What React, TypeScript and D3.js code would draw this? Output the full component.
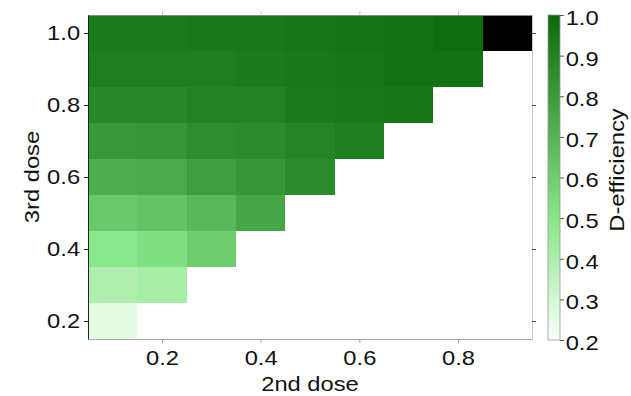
import React, { useEffect, useRef } from 'react';
import * as d3 from 'd3';

// 2nd dose (x) and 3rd dose (y) grid
const secondDose = [0.1, 0.2, 0.3, 0.4, 0.5, 0.6, 0.7, 0.8, 0.9];
const thirdDose = [0.2, 0.3, 0.4, 0.5, 0.6, 0.7, 0.8, 0.9, 1.0];

// D-efficiency per 3rd dose row (null = not computed -> drawn black)
const eff02 = [0.26];
const eff03 = [0.39, 0.42];
const eff04 = [0.49, 0.53, 0.6];
const eff05 = [0.62, 0.64, 0.69, 0.76];
const eff06 = [0.73, 0.74, 0.79, 0.82, 0.87];
const eff07 = [0.81, 0.82, 0.86, 0.87, 0.89, 0.92];
const eff08 = [0.88, 0.88, 0.9, 0.9, 0.93, 0.94, 0.95];
const eff09 = [0.92, 0.92, 0.92, 0.93, 0.94, 0.95, 0.97, 0.97];
const eff10 = [0.93, 0.93, 0.94, 0.94, 0.95, 0.96, 0.97, 0.99, null];
const effRows = [eff02, eff03, eff04, eff05, eff06, eff07, eff08, eff09, eff10];

const axisTicks = [0.2, 0.4, 0.6, 0.8, 1.0];
const cbTicks = [0.2, 0.3, 0.4, 0.5, 0.6, 0.7, 0.8, 0.9, 1.0];

const W = 631;
const H = 396;
const FONT = '"Liberation Sans", Arial, sans-serif';
const FS = 21;
const STRETCH = 'scale(1.13,1)'; // text in the original is a bit wide

export default function App() {
  const ref = useRef<SVGSVGElement>(null);

  useEffect(() => {
    const svg = d3.select(ref.current);
    svg.selectAll('*').remove();

    const margin = { top: 15, right: 99, bottom: 57, left: 88 };
    const x = d3.scaleLinear().domain([0.05, 0.95]).range([margin.left, W - margin.right]);
    const y = d3.scaleLinear().domain([0.15, 1.05]).range([H - margin.bottom, margin.top]);

    const color = d3
      .scaleLinear<string>()
      .domain([0.2, 0.5, 1.0])
      .range(['#fafffa', '#87e687', '#0a6a0a'])
      .interpolate(d3.interpolateRgb);

    const cells: { xv: number; yv: number; v: number | null }[] = [];
    effRows.forEach((row, i) => {
      row.forEach((v, j) => cells.push({ xv: secondDose[j], yv: thirdDose[i], v }));
    });

    const step = 0.1;
    svg
      .append('g')
      .selectAll('rect')
      .data(cells)
      .enter()
      .append('rect')
      .attr('x', (d) => x(d.xv - step / 2))
      .attr('y', (d) => y(d.yv + step / 2))
      .attr('width', (d) => x(d.xv + step / 2) - x(d.xv - step / 2))
      .attr('height', (d) => y(d.yv - step / 2) - y(d.yv + step / 2))
      .attr('fill', (d) => (d.v === null ? '#000' : color(d.v)))
      .attr('shape-rendering', 'crispEdges');

    // box: left/bottom axes, light top/right frame
    const x0 = x.range()[0], x1 = x.range()[1];
    const y0 = y.range()[0], y1 = y.range()[1];

    const bottom = svg
      .append('g')
      .attr('transform', `translate(0,${y0})`)
      .call(d3.axisBottom(x).tickValues(axisTicks.slice(0, 4)).tickSize(4).tickSizeOuter(0).tickFormat(d3.format('.1f')));
    bottom.select('.domain').attr('stroke', '#a8a8a8');
    bottom.selectAll('line').attr('stroke', '#a8a8a8');
    bottom.selectAll('text').attr('font-size', FS).attr('font-family', FONT).attr('fill', '#111').attr('dy', '0.9em').attr('transform', STRETCH);

    const top = svg
      .append('g')
      .attr('transform', `translate(0,${y1})`)
      .call(d3.axisTop(x).tickValues(axisTicks.slice(0, 4)).tickSize(4).tickSizeOuter(0).tickFormat(() => ''));
    top.select('.domain').attr('stroke', '#8a8a8a');
    top.selectAll('line').attr('stroke', '#c8c8c8');

    const left = svg
      .append('g')
      .attr('transform', `translate(${x0},0)`)
      .call(d3.axisLeft(y).tickValues(axisTicks).tickSize(4).tickSizeOuter(0).tickFormat(d3.format('.1f')));
    left.select('.domain').attr('stroke', '#222');
    left.selectAll('line').attr('stroke', '#222');
    left.selectAll('text').attr('font-size', FS).attr('font-family', FONT).attr('fill', '#111').attr('x', -7).attr('transform', STRETCH);

    const right = svg
      .append('g')
      .attr('transform', `translate(${x1},0)`)
      .call(d3.axisRight(y).tickValues(axisTicks).tickSize(4).tickSizeOuter(0).tickFormat(() => ''));
    right.select('.domain').attr('stroke', '#c8c8c8');
    right.selectAll('line').attr('stroke', '#444');

    svg
      .append('text')
      .attr('transform', `translate(${(x0 + x1) / 2},391) ${STRETCH}`)
      .attr('text-anchor', 'middle')
      .attr('font-family', FONT)
      .attr('font-size', FS)
      .attr('fill', '#111')
      .text('2nd dose');

    svg
      .append('text')
      .attr('transform', `translate(39,${(y0 + y1) / 2}) rotate(-90) ${STRETCH}`)
      .attr('text-anchor', 'middle')
      .attr('font-family', FONT)
      .attr('font-size', FS)
      .attr('fill', '#111')
      .text('3rd dose');

    // colorbar
    const cbX = 548;
    const cbW = 12;
    const cb = d3.scaleLinear().domain([0.2, 1.0]).range([340, 15]);
    const defs = svg.append('defs');
    const grad = defs
      .append('linearGradient')
      .attr('id', 'cbgrad')
      .attr('x1', 0)
      .attr('y1', 1)
      .attr('x2', 0)
      .attr('y2', 0);
    d3.range(0, 1.0001, 0.05).forEach((t) => {
      const v = 0.2 + t * 0.8;
      grad.append('stop').attr('offset', `${t * 100}%`).attr('stop-color', color(v));
    });
    svg
      .append('rect')
      .attr('x', cbX)
      .attr('y', cb(1.0))
      .attr('width', cbW)
      .attr('height', cb(0.2) - cb(1.0))
      .attr('fill', 'url(#cbgrad)')
      .attr('stroke', '#999')
      .attr('stroke-width', 0.8);

    const cbAxis = svg
      .append('g')
      .attr('transform', `translate(${cbX + cbW},0)`)
      .call(d3.axisRight(cb).tickValues(cbTicks).tickSize(4).tickSizeOuter(0).tickFormat(d3.format('.1f')));
    cbAxis.select('.domain').remove();
    cbAxis.selectAll('line').attr('stroke', '#555');
    cbAxis.selectAll('text').attr('font-size', FS).attr('font-family', FONT).attr('fill', '#111').attr('x', 5).attr('dy', '0.45em').attr('transform', STRETCH);

    svg
      .append('text')
      .attr('transform', `translate(624,170) rotate(-90) ${STRETCH}`)
      .attr('text-anchor', 'middle')
      .attr('font-family', FONT)
      .attr('font-size', FS)
      .attr('fill', '#111')
      .text('D-efficiency');
  }, []);

  return (
    <svg
      ref={ref}
      width={W}
      height={H}
      style={{ position: 'absolute', left: 0, top: 0, background: '#fff' }}
    />
  );
}
